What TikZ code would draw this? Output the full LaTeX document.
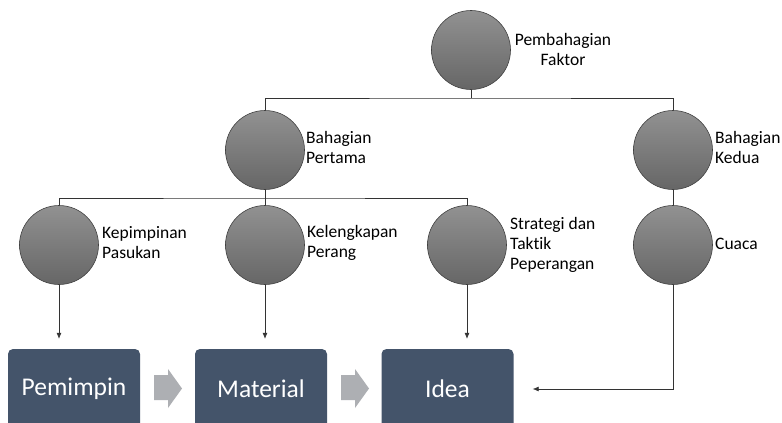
\documentclass[tikz,border=0pt]{standalone}
\usepackage{fontspec}
\setmainfont{Carlito}[Ligatures={NoCommon}]
\usetikzlibrary{arrows.meta}
\definecolor{boxc}{HTML}{44546A}
\definecolor{garrow}{HTML}{ADAFB3}
\begin{document}
\begin{tikzpicture}[x=1pt,y=-1pt,
  circ/.style={circle,minimum size=79pt,inner sep=0pt,draw=black!75,line width=0.6pt,top color=black!43,bottom color=black!60},
  lab/.style={font=\fontsize{17.5}{20}\selectfont,align=left,inner sep=1pt,anchor=west},
  box/.style={rounded corners=5pt,fill=boxc,text=white,minimum width=132pt,minimum height=80pt,font=\fontsize{25.5}{30}\selectfont,inner sep=0pt},
  conn/.style={line width=0.6pt,draw=black!80},
  arr/.style={conn,-{Latex[length=6pt,width=5pt]}}]
\clip (0,0) rectangle (782,423);
\fill[white] (0,0) rectangle (782,423);
% circles
\node[circ] (f) at (471,50) {};
\node[circ] (b1) at (265,150) {};
\node[circ] (b2) at (673,150) {};
\node[circ] (k1) at (59,245) {};
\node[circ] (k2) at (265,245) {};
\node[circ] (k3) at (467,245) {};
\node[circ] (c) at (673,245) {};
% labels
\node[lab,align=center,anchor=center] (lf) at (563,49) {Pembahagian\\Faktor};
\node[lab] (lb1) at (305,147) {Bahagian\\Pertama};
\node[lab] (lb2) at (714,147) {Bahagian\\Kedua};
\node[lab] (lk1) at (101,243) {Kepimpinan\\Pasukan};
\node[lab] (lk2) at (306,243) {Kelengkapan\\Perang};
\node[lab] (lk3) at (509,245) {Strategi dan\\Taktik\\Peperangan};
\node[lab] (lc) at (714,244) {Cuaca};
% boxes
\node[box] (p1) at (74,389) {Pemimpin};
\node[box] (p2) at (261,389) {Material};
\node[box] (p3) at (447.5,389) {Idea};
% grey arrows
\fill[garrow] (154,375) -- (168,375) -- (168,369) -- (182,388.5) -- (168,408) -- (168,400) -- (154,400) -- cycle;
\fill[garrow] (341,375) -- (355,375) -- (355,369) -- (369,388.5) -- (355,408) -- (355,400) -- (341,400) -- cycle;
% connectors
\coordinate (j1) at (471,98);
\coordinate (j2) at (265,198);
\draw[conn] (f.south) -- (j1);
\draw[conn] (b1.north) |- (j1) -| (b2.north);
\draw[conn] (b1.south) -- (j2);
\draw[conn] (k1.north) |- (j2) -| (k3.north);
\draw[conn] (j2) -- (k2.north);
\draw[conn] (b2.south) -- (c.north);
\draw[arr,shorten >=10pt] (k1.south) -- (k1.south |- p1.north);
\draw[arr,shorten >=10pt] (k2.south) -- (k2.south |- p2.north);
\draw[arr,shorten >=10pt] (k3.south) -- (k3.south |- p3.north);
\draw[arr,shorten >=19pt] (c.south) |- (p3.east);
\end{tikzpicture}
\end{document}
